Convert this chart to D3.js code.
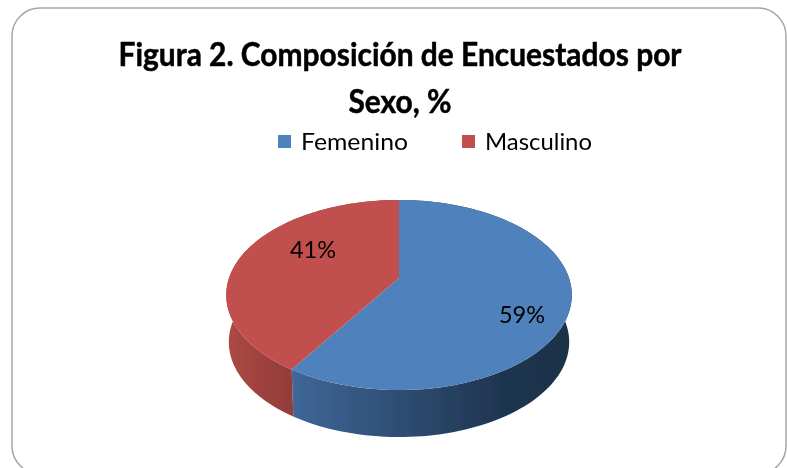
<!DOCTYPE html>
<html>
<head>
<meta charset="utf-8">
<script src="https://cdn.jsdelivr.net/npm/d3@7"></script>
<style>
  html, body { margin: 0; padding: 0; background: #fff; overflow: hidden; }
  text { font-family: Lato, "Open Sans", sans-serif; fill: #000; }
</style>
</head>
<body>
<div id="chart"></div>
<script>
const categories = ['Femenino', 'Masculino'];
const values = [59, 41];
const labels = ['59%', '41%'];
const titleLines = ['Figura 2. Composición de Encuestados por', 'Sexo, %'];

const width = 787, height = 468;

const color = d3.scaleOrdinal().domain(categories).range(['#4f81bd', '#c0504d']);

const svg = d3.select('#chart').append('svg')
  .attr('width', width)
  .attr('height', height);

const defs = svg.append('defs');

// the reference is a soft upscaled image
defs.append('filter').attr('id', 'soft')
  .append('feGaussianBlur').attr('stdDeviation', 0.6);

function wallGradient(id, x1, x2, stops) {
  const g = defs.append('linearGradient')
    .attr('id', id)
    .attr('gradientUnits', 'userSpaceOnUse')
    .attr('x1', x1).attr('x2', x2)
    .attr('y1', 0).attr('y2', 0);
  stops.forEach(s => g.append('stop').attr('offset', s[0]).attr('stop-color', s[1]));
}
wallGradient('wallFemenino', 287, 572, [[0, '#40689a'], [0.75, '#1f3550'], [1, '#1e3249']]);
wallGradient('wallMasculino', 226, 290, [[0, '#ad4946'], [1, '#933d3a']]);

// circle to screen, with some perspective: the pie centre sits above the ellipse centre
const cx = 399, cy = 278, a = 170, b = 92, k = 0.179, depth = 47, shrinkX = 0.985;
function project(angle, z) {
  const u = Math.sin(angle), v = -Math.cos(angle);
  const w = 1 - k * v;
  const s = z ? shrinkX : 1;
  return [cx + s * a * u / w, cy + (z ? depth : 0) + b * v / w];
}

const pie = d3.pie().sort(null);
const slices = pie(values);
const line = d3.line();

function arcPoints(d, z) {
  const n = 120;
  return d3.range(n + 1).map(i => project(d.startAngle + (d.endAngle - d.startAngle) * i / n, z));
}

const plot = svg.append('g').attr('filter', 'url(#soft)');

// frame
svg.append('rect')
  .attr('x', 12).attr('y', 8)
  .attr('width', 774).attr('height', 466)
  .attr('rx', 28).attr('ry', 28)
  .attr('fill', 'none')
  .attr('stroke', '#a6a6a6')
  .attr('stroke-width', 1.5)
  .attr('filter', 'url(#soft)');

// side walls first, the top faces cover the back half
plot.selectAll('path.wall')
  .data(slices)
  .join('path')
  .attr('class', 'wall')
  .attr('d', d => line(arcPoints(d, 0).concat(arcPoints(d, 1).reverse())) + 'Z')
  .attr('fill', (d, i) => `url(#wall${categories[i]})`);

plot.selectAll('path.top')
  .data(slices)
  .join('path')
  .attr('class', 'top')
  .attr('d', d => line([[cx, cy]].concat(arcPoints(d, 0))) + 'Z')
  .attr('fill', (d, i) => color(categories[i]));

// data labels
const labelX = d3.scalePoint().domain(categories).range([522, 313]);
const labelY = d3.scalePoint().domain(categories).range([323, 258]);
svg.append('g').attr('filter', 'url(#soft)')
  .selectAll('text')
  .data(categories)
  .join('text')
  .attr('x', d => labelX(d))
  .attr('y', d => labelY(d))
  .attr('text-anchor', 'middle')
  .attr('font-size', 24)
  .attr('textLength', 46)
  .attr('lengthAdjust', 'spacingAndGlyphs')
  .text((d, i) => labels[i]);

// title
const title = svg.append('g').attr('filter', 'url(#soft)');
title.selectAll('text')
  .data(titleLines)
  .join('text')
  .attr('x', 400)
  .attr('y', (d, i) => 66 + i * 47)
  .attr('text-anchor', 'middle')
  .attr('font-size', 32)
  .attr('font-weight', 700)
  .attr('stroke', '#000')
  .attr('stroke-width', 0.5)
  .attr('textLength', (d, i) => i ? 103 : 563)
  .attr('lengthAdjust', 'spacingAndGlyphs')
  .text(d => d);

// legend
const legendX = d3.scalePoint().domain(categories).range([278, 462]);
const legend = svg.append('g').attr('filter', 'url(#soft)')
  .selectAll('g')
  .data(categories)
  .join('g')
  .attr('transform', d => `translate(${legendX(d)},135)`);
legend.append('rect')
  .attr('width', 13).attr('height', 13)
  .attr('fill', d => color(d));
legend.append('text')
  .attr('x', 23)
  .attr('y', 15)
  .attr('font-size', 24)
  .attr('textLength', 107)
  .attr('lengthAdjust', 'spacingAndGlyphs')
  .text(d => d);
</script>
</body>
</html>
